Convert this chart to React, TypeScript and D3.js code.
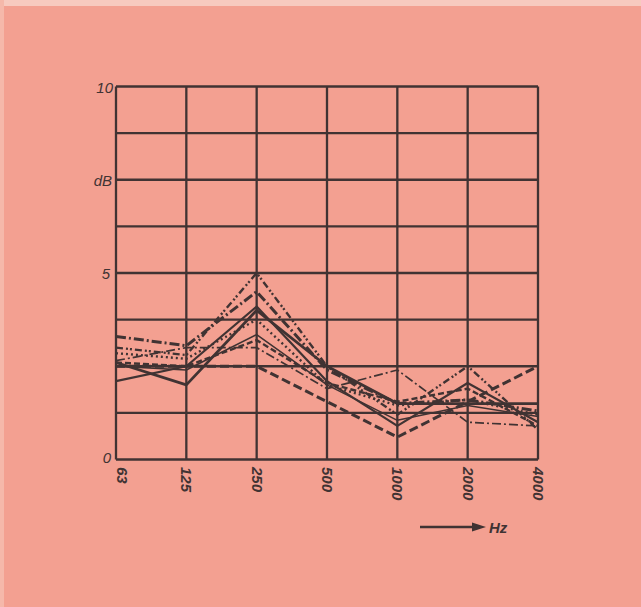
import React from 'react';
import * as d3 from 'd3';

// frequency bands (Hz)
const categories = ['63', '125', '250', '500', '1000', '2000', '4000'];

// level differences in dB, one array per curve
const seriesA = [3.3, 3.05, 4.5, 2.4, 1.5, 1.6, 1.3];
const seriesB = [3.0, 2.8, 5.0, 2.5, 1.2, 2.5, 0.8];
const seriesC = [2.6, 2.0, 4.0, 2.5, 1.5, 1.5, 1.5];
const seriesD = [2.1, 2.5, 4.1, 2.1, 0.9, 2.05, 1.0];
const seriesE = [2.5, 2.4, 3.35, 2.0, 1.05, 1.45, 1.15];
const seriesF = [2.85, 2.7, 3.75, 2.0, 1.45, 1.6, 1.2];
const seriesG = [2.5, 2.5, 2.5, 1.55, 0.6, 1.55, 2.5];
const seriesH = [2.65, 3.0, 3.0, 1.9, 2.4, 1.0, 0.9];
const seriesI = [2.6, 2.5, 3.2, 2.05, 1.55, 1.9, 0.9];

const yTicks = [0, 1.25, 2.5, 3.75, 5, 6.25, 7.5, 8.75, 10];

const ink = '#403333';
const paper = '#f3a091';

const curves = [
  { values: seriesA, width: 3, dash: '10 3 2 3' },
  { values: seriesB, width: 2.4, dash: '7 3 2 2 2 3' },
  { values: seriesC, width: 2.8, dash: '' },
  { values: seriesD, width: 2.2, dash: '' },
  { values: seriesE, width: 1.5, dash: '' },
  { values: seriesF, width: 2.4, dash: '2 3' },
  { values: seriesG, width: 3, dash: '9 4' },
  { values: seriesH, width: 1.7, dash: '9 3 2 3' },
  { values: seriesI, width: 2.4, dash: '6 3' },
];

const App = () => {
  const x = d3.scalePoint<string>().domain(categories).range([116, 538]);
  const y = d3.scaleLinear().domain([0, 10]).range([459.5, 86.5]);

  const line = d3
    .line<number>()
    .x((_, i) => x(categories[i]) as number)
    .y((d) => y(d));

  const font = '"Liberation Sans", Arial, sans-serif';

  return (
    <svg
      width={641}
      height={607}
      style={{ position: 'fixed', left: 0, top: 0 }}
      fontFamily={font}
    >
      <rect x={0} y={0} width={641} height={607} fill={paper} />
      <rect x={0} y={0} width={641} height={6} fill="#f7cabf" />
      <rect x={0} y={0} width={4} height={607} fill="#f5b8aa" />

      {/* grid */}
      <g stroke={ink} strokeWidth={2.3}>
        {yTicks.map((t) => (
          <line key={'h' + t} x1={x('63')} x2={x('4000')} y1={y(t)} y2={y(t)} />
        ))}
        {categories.map((c) => (
          <line key={'v' + c} x1={x(c)} x2={x(c)} y1={y(0)} y2={y(10)} />
        ))}
      </g>

      {/* curves */}
      <g fill="none" stroke={ink} strokeLinejoin="round">
        {curves.map((c, i) => (
          <path
            key={i}
            d={line(c.values) || ''}
            strokeWidth={c.width}
            strokeDasharray={c.dash}
          />
        ))}
      </g>

      {/* y labels */}
      <g fill={ink} fontStyle="italic" fontSize={15} textAnchor="end">
        <text x={113} y={y(10) + 6}>10</text>
        <text x={112} y={y(7.5) + 6}>dB</text>
        <text x={110} y={y(5) + 6}>5</text>
        <text x={111} y={y(0) + 3}>0</text>
      </g>

      {/* x labels */}
      <g fill={ink} fontStyle="italic" fontWeight="bold" fontSize={15}>
        {categories.map((c, i) => (
          <text
            key={c}
            transform={`translate(${(x(c) as number) - (i === 0 ? -1 : 5)},467) rotate(90)`}
            textAnchor="start"
          >
            {c}
          </text>
        ))}
      </g>

      {/* axis unit */}
      <line x1={420} x2={476} y1={527} y2={527} stroke={ink} strokeWidth={2.3} />
      <path d="M472,522.5 L486,527 L472,531.5 Z" fill={ink} />
      <text x={489} y={533} fill={ink} fontStyle="italic" fontWeight="bold" fontSize={15}>
        Hz
      </text>
    </svg>
  );
};

export default App;
